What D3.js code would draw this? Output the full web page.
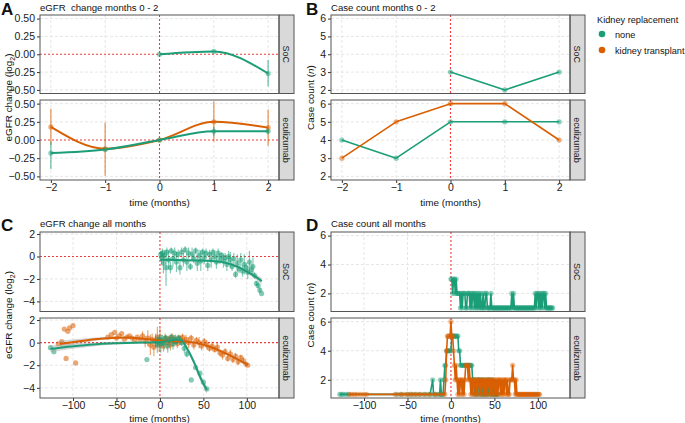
<!DOCTYPE html>
<html>
<head>
<meta charset="utf-8">
<script src="https://cdn.jsdelivr.net/npm/d3@7"></script>
<style>
body { margin: 0; background: #fff; }
text { font-family: "Liberation Sans", Arial, sans-serif; }
</style>
</head>
<body>
<script>
var green = "#1b9e77", orange = "#d95f02";
var groupNames = ["none", "kidney transplant"];
var armNames = ["SoC", "eculizumab"];

// A: eGFR change months 0-2
var shortMonths = [-2, -1, 0, 1, 2];
var aSocNone    = [null, null, 0.00, 0.04, -0.27];
var aSocNoneLo  = [null, null, null, null, -0.45];
var aSocNoneHi  = [null, null, null, null, -0.08];
var aEcuNone    = [-0.18, -0.13, 0.00, 0.12, 0.12];
var aEcuNoneLo  = [-0.40, null, null, 0.06, 0.08];
var aEcuNoneHi  = [-0.02, null, null, 0.18, 0.16];
var aEcuKtx     = [0.18, -0.12, 0.00, 0.25, 0.17];
var aEcuKtxLo   = [-0.07, -0.49, null, -0.02, -0.08];
var aEcuKtxHi   = [0.43, 0.24, null, 0.53, 0.42];

// B: case count months 0-2
var bSocNone = [null, null, 3, 2, 3];
var bEcuNone = [4, 3, 5, 5, 5];
var bEcuKtx  = [3, 5, 6, 6, 4];

// C: eGFR change all months (mean, half error bar)
var cSocMonth = [1,2,3,4,5,7,8,10,12,13,15,17,19,21,23,25,27,29,31,33,35,37,39,41,43,45,47,49,51,53,55,57,59,61,63,65,67,69,71,73,75,77,79,81,83,85,87,89,91,93,95,97,99,101,103,105,107,109,111,113,115,117];
var cSocMean  = [0.2,-0.1,0.3,-0.6,0.1,-1.0,0.4,-0.3,-1.0,0.5, -0.2,0.3,-0.5,0.2,-1.0,0.4,-0.3,0.6,-0.5,0.3, -0.9,0.2,-0.2,0.5,-0.6,0.1,-0.4,0.4,-0.1,0.3, -0.8,0.2,-0.3,0.4,0.0,-0.5,0.3,-0.2,0.1,-0.4, -0.1,-0.7,0.0,-0.3,-0.9,-0.2,-1.6,-0.6,-1.1,-0.3, -1.3,-0.7,-1.0,-1.4,-0.5,-1.2,-0.9,-1.7,-2.4,-2.6, -3.0,-3.3];
var cSocErr   = [0.3,0.6,0.4,0.9,0.5,1.6,0.4,0.8,0.5,0.3, 0.7,0.5,0.9,0.4,0.6,0.4,0.6,0.3,0.8,0.5, 0.3,0.6,0.4,0.3,0.7,0.5,0.9,0.3,0.6,0.4, 0.5,0.4,0.7,0.3,0.5,0.6,0.4,0.5,0.3,0.6, 0.4,0.6,0.5,0.7,0.4,0.5,0.3,0.8,0.4,0.6, 0.5,0.9,0.4,0.6,1.0,0.5,0.8,0.3,0.2,0.2, 0.2,0];

var cEcuNoneMonth = [-126,-122,-15,-5,-3,-1,1,3,5,7, 9,11,13,15,17,19,21,23,25,28, 31,36,41,46,50,54];
var cEcuNoneMean  = [-0.45,-0.8,-1.5,0.1,-0.2,0.3,-0.1,0.2,0.0,0.4, -0.3,0.2,0.5,-0.1,0.3,0.1,0.4,0.2,0.0,-0.5, -1.0,-3.3,-2.2,-2.7,-3.5,-4.1];
var cEcuNoneErr   = [0,0,0,0.5,0.7,0.4,0.8,0.5,0.6,0.3, 0.6,0.4,0.3,0.5,0.4,0.3,0.3,0.4,0.3,0.4, 0.3,0,0,0,0,0];

var cEcuKtxMonth = [-117,-113,-110,-108,-106,-104,-100,-97, -60,-56,-52,-50,-47,-44,-41,-38,-35,-32,-29,-26,-23, -20,-17,-14,-11,-9,-7,-5,-3,-1,0, 2,4,6,8,10,12,14,16,18,20, 22,24,26,28,30,33,36,39,42,45, 48,51,54,57,60,63,66,69,72,75, 78,81,84,87,90,93,96,99,101];
var cEcuKtxMean  = [-0.1,0.1,1.2,-1.4,1.0,1.3,1.5,-1.8, 0.5,0.7,0.9,0.4,0.6,0.8,0.3,0.5,0.6,0.4,0.2,0.5,0.3, 0.6,0.1,0.4,-0.2,0.3,-0.4,0.2,0.5,-0.1,0.3, 0.1,-0.3,0.4,0.0,0.3,-0.2,0.5,0.1,0.3,-0.1, 0.4,0.2,0.5,0.1,0.3,0.0,0.4,-0.2,0.2,0.0, -0.3,0.1,-0.2,-0.5,-0.3,-0.6,-0.4,-0.9,-1.1,-0.8, -1.4,-1.0,-1.5,-1.2,-1.7,-1.3,-1.6,-1.9,-2.0];
var cEcuKtxErr   = [0,0,0,0,0,0,0,0, 0,0,0,0,0,0,0,0,0,0,0,0,0, 0.4,0.5,0.7,0.9,0.5,0.8,0.6,0.9,0.7,1.0, 0.6,0.5,0.4,0.6,0.3,0.5,0.3,0.5,0.4,0.4, 0.3,0.4,0.3,0.3,0.4,0.5,0.3,0.4,0.3,0.5, 0.4,0.3,0.4,0.3,0.4,0.3,0.4,0.3,0.4,0.3, 0.3,0.4,0.3,0.3,0.3,0.2,0.3,0.2,0];

// C: smooth fits (fit, half ribbon)
var cSocFitMonth = [0,20,40,60,70,80,90,100,110,117];
var cSocFit      = [-0.30,-0.32,-0.35,-0.40,-0.48,-0.65,-0.95,-1.35,-1.80,-2.20];
var cSocFitSe    = [0.12,0.08,0.07,0.07,0.08,0.10,0.12,0.15,0.22,0.30];
var cEcuNoneFitMonth = [-126,-110,-90,-70,-50,-30,-10,0,10,20,25,31,39,46,54];
var cEcuNoneFit      = [-0.55,-0.40,-0.25,-0.12,-0.05,0.0,0.02,0.05,0.15,0.28,0.20,-0.50,-1.70,-3.00,-4.20];
var cEcuNoneFitSe    = [0.30,0.25,0.20,0.15,0.12,0.10,0.08,0.08,0.10,0.12,0.12,0.20,0.25,0.30,0.35];
var cEcuKtxFitMonth = [-115,-95,-75,-55,-40,-20,0,20,40,55,70,85,101];
var cEcuKtxFit      = [-0.12,0.10,0.30,0.42,0.45,0.35,0.18,0.12,0.0,-0.30,-0.75,-1.30,-1.95];
var cEcuKtxFitSe    = [0.30,0.22,0.15,0.10,0.08,0.07,0.06,0.06,0.07,0.08,0.10,0.12,0.15];

// D: case count all months
var dSocStart = 0;
var dSocCount = [3,3,2,3,3,2,3,2,2,2, 2,1,2,1,2,2,2,1,1,2, 2,2,1,2,1,2,2,1,2,1, 2,1,2,1,2,1,1,2,1,1, 2,2,1,1,1,1,2,1,1,1, 1,1,1,1,1,1,1,1,1,1, 1,1,1,1,1,1,1,1,1,1, 2,1,2,1,1,1,1,1,1,1, 1,1,1,1,1,1,1,1,1,1, 1,1,1,1,1,1,1,2,1,2, 2,1,2,1,2,1,2,2,1,2, 1,1,1,1,1,1,1,1];
var dEcuNoneEarlyMonth = [-128,-126,-124,-121,-118,-62,-57,-50,-46,-41,-36,-31,-27,-24,-21,-20,-18,-15,-13,-12,-11,-10,-9];
var dEcuNoneEarlyCount = [1,1,1,1,1,1,1,1,1,1,1,1,1,1,2,1,1,1,1,2,1,1,1];
var dEcuNoneStart = -8;
var dEcuNoneCount = [2,3,3,4,4,4,4,4,4,5, 5,5,5,5,5,5,5,4,4,3, 3,3,3,3,3,3,3,3,3,3, 3,3,3,2,2,1,2,1,2,1, 2,2,1,2,1,2,1,1,2,1, 2,1,2,2,1,1,2,1,1,1, 1,1,1];
var dEcuKtxEarlyMonth = [-117,-114,-111,-108,-104,-100,-97,-64,-58,-54,-50,-46,-43,-39,-35,-30,-24,-18,-12];
var dEcuKtxEarlyCount = [1,1,1,1,1,1,1,1,1,1,1,1,1,1,1,1,1,1,1];
var dEcuKtxStart = -7;
var dEcuKtxCount = [1,2,4,5,5,5,5,6,5,5, 4,3,2,3,2,1,2,1,2,2, 1,2,1,2,3,3,3,2,3,2, 1,2,1,2,2,1,2,1,2,2, 1,2,1,2,2,1,2,1,2,1, 2,2,1,2,1,2,2,1,2,1, 2,1,2,2,1,2,1,2,1,2, 2,1,2,1,1,2,2,2,3,2, 2,1,2,1,1,1,1,1,1,1, 1,1,1,1,1,1,1,1,1,1, 1,1,1,1,1,1,1,1,1,1];

var svg = d3.select("body").append("svg")
    .attr("width", 685)
    .attr("height", 423);

var cols = [{x0: 40, x1: 279}, {x0: 331, x1: 570}];
var rowsTop = [{y0: 15, y1: 93.5}, {y0: 100, y1: 180}];
var rowsBot = [{y0: 232, y1: 311.5}, {y0: 318, y1: 398}];
var stripW = 15;
var gridCol = "#e6e6e6", borderCol = "#555", redCol = "#f03b3b";
var tickFont = 10.5, textFont = 9.6;

function zip(months, vals, lo, hi) {
    return months.map(function(m, i) {
        return {x: m, y: vals[i], lo: lo ? lo[i] : null, hi: hi ? hi[i] : null};
    }).filter(function(d) { return d.y != null; });
}
function zipErr(months, vals, err) {
    return months.map(function(m, i) {
        return {x: m, y: vals[i], lo: err[i] ? vals[i] - err[i] : null, hi: err[i] ? vals[i] + err[i] : null};
    });
}
function counts(start, arr) {
    return arr.map(function(v, i) { return {x: start + i, y: v}; });
}
function pairs(months, vals) {
    return months.map(function(m, i) { return {x: m, y: vals[i]}; });
}

// draws one facet: grid, red reference lines, strip, axes; returns a group for the data
function facet(col, row, xs, ys, xticks, yticks, yfmt, strip, showX, hline) {
    var g = svg.append("g");
    g.selectAll(".gx").data(xticks.filter(d => d !== 0)).join("line")
        .attr("x1", d => xs(d)).attr("x2", d => xs(d))
        .attr("y1", row.y0).attr("y2", row.y1)
        .attr("stroke", gridCol).attr("stroke-dasharray", "3,2");
    g.selectAll(".gy").data(hline ? yticks.filter(d => d !== 0) : yticks).join("line")
        .attr("y1", d => ys(d)).attr("y2", d => ys(d))
        .attr("x1", col.x0).attr("x2", col.x1)
        .attr("stroke", gridCol).attr("stroke-dasharray", "3,2");
    if (hline) {
        g.append("line").attr("x1", col.x0).attr("x2", col.x1)
            .attr("y1", ys(0)).attr("y2", ys(0))
            .attr("stroke", redCol).attr("stroke-width", 1.1).attr("stroke-dasharray", "2,2");
    }
    g.append("line").attr("x1", xs(0)).attr("x2", xs(0))
        .attr("y1", row.y0).attr("y2", row.y1)
        .attr("stroke", redCol).attr("stroke-width", 1.1).attr("stroke-dasharray", "2,2");
    // strip
    g.append("rect").attr("x", col.x1).attr("y", row.y0)
        .attr("width", stripW).attr("height", row.y1 - row.y0)
        .attr("fill", "#d9d9d9").attr("stroke", borderCol).attr("stroke-width", 1);
    g.append("text")
        .attr("transform", "translate(" + (col.x1 + stripW / 2) + "," + ((row.y0 + row.y1) / 2) + ") rotate(90)")
        .attr("text-anchor", "middle").attr("dy", "0.35em")
        .attr("font-size", 9).attr("fill", "#1a1a1a").text(strip);
    // y axis
    var ya = g.append("g").attr("transform", "translate(" + col.x0 + ",0)")
        .call(d3.axisLeft(ys).tickValues(yticks).tickFormat(yfmt).tickSize(3).tickPadding(2));
    styleAxis(ya);
    if (showX) {
        var xa = g.append("g").attr("transform", "translate(0," + row.y1 + ")")
            .call(d3.axisBottom(xs).tickValues(xticks).tickFormat(d3.format("d")).tickSize(3).tickPadding(1));
        styleAxis(xa);
    }
    return svg.append("g");
}
function styleAxis(a) {
    a.select(".domain").remove();
    a.selectAll(".tick line").attr("stroke", "#333");
    a.selectAll(".tick text").attr("font-size", tickFont).attr("fill", "#1a1a1a")
        .attr("font-family", "'Liberation Sans', Arial, sans-serif");
}
function border(col, row) {
    svg.append("rect").attr("x", col.x0).attr("y", row.y0)
        .attr("width", col.x1 - col.x0).attr("height", row.y1 - row.y0)
        .attr("fill", "none").attr("stroke", borderCol).attr("stroke-width", 1);
}

function errbars(g, data, xs, ys, color, w) {
    g.selectAll(null).data(data.filter(d => d.lo != null)).join("line")
        .attr("x1", d => xs(d.x)).attr("x2", d => xs(d.x))
        .attr("y1", d => ys(d.lo)).attr("y2", d => ys(d.hi))
        .attr("stroke", color).attr("stroke-opacity", 0.55).attr("stroke-width", w);
}
function dots(g, data, xs, ys, color, r, op) {
    g.selectAll(null).data(data).join("circle")
        .attr("cx", d => xs(d.x)).attr("cy", d => ys(d.y)).attr("r", r)
        .attr("fill", color).attr("fill-opacity", op);
}
function path(g, data, xs, ys, color, w, curve) {
    g.append("path").datum(data)
        .attr("d", d3.line().x(d => xs(d.x)).y(d => ys(d.y)).curve(curve))
        .attr("fill", "none").attr("stroke", color).attr("stroke-width", w)
        .attr("stroke-linejoin", "round");
}
function ribbon(g, data, xs, ys) {
    g.append("path").datum(data)
        .attr("d", d3.area().x(d => xs(d.x)).y0(d => ys(d.y - d.se)).y1(d => ys(d.y + d.se)).curve(d3.curveMonotoneX))
        .attr("fill", "#9a9a9a").attr("fill-opacity", 0.4);
}

// ---------- A ----------
var xA = d3.scaleLinear().domain([-2.2, 2.2]).range([cols[0].x0, cols[0].x1]);
var yATicks = [-0.5, -0.25, 0, 0.25, 0.5];
var fmtA = d3.format(".2f");
var yA0 = d3.scaleLinear().domain([-0.55, 0.55]).range([rowsTop[0].y1, rowsTop[0].y0]);
var yA1 = d3.scaleLinear().domain([-0.55, 0.55]).range([rowsTop[1].y1, rowsTop[1].y0]);
var gA0 = facet(cols[0], rowsTop[0], xA, yA0, shortMonths, yATicks, fmtA, armNames[0], false, true);
var socA = zip(shortMonths, aSocNone, aSocNoneLo, aSocNoneHi);
errbars(gA0, socA, xA, yA0, green, 1.5);
dots(gA0, socA, xA, yA0, green, 2.6, 0.5);
path(gA0, socA, xA, yA0, green, 2, d3.curveMonotoneX);
border(cols[0], rowsTop[0]);

var gA1 = facet(cols[0], rowsTop[1], xA, yA1, shortMonths, yATicks, fmtA, armNames[1], true, true);
var ecuNoneA = zip(shortMonths, aEcuNone, aEcuNoneLo, aEcuNoneHi);
var ecuKtxA = zip(shortMonths, aEcuKtx, aEcuKtxLo, aEcuKtxHi);
errbars(gA1, ecuKtxA, xA, yA1, orange, 1.5);
errbars(gA1, ecuNoneA, xA, yA1, green, 1.5);
dots(gA1, ecuKtxA, xA, yA1, orange, 2.6, 0.5);
dots(gA1, ecuNoneA, xA, yA1, green, 2.6, 0.5);
path(gA1, ecuKtxA, xA, yA1, orange, 2, d3.curveMonotoneX);
path(gA1, ecuNoneA, xA, yA1, green, 2, d3.curveMonotoneX);
border(cols[0], rowsTop[1]);

// ---------- B ----------
var xB = d3.scaleLinear().domain([-2.2, 2.2]).range([cols[1].x0, cols[1].x1]);
var yBTicks = [2, 3, 4, 5, 6];
var yB0 = d3.scaleLinear().domain([1.8, 6.2]).range([rowsTop[0].y1, rowsTop[0].y0]);
var yB1 = d3.scaleLinear().domain([1.8, 6.2]).range([rowsTop[1].y1, rowsTop[1].y0]);
var gB0 = facet(cols[1], rowsTop[0], xB, yB0, shortMonths, yBTicks, d3.format("d"), armNames[0], false, false);
var socB = zip(shortMonths, bSocNone);
path(gB0, socB, xB, yB0, green, 1.6, d3.curveLinear);
dots(gB0, socB, xB, yB0, green, 2.6, 0.5);
border(cols[1], rowsTop[0]);
var gB1 = facet(cols[1], rowsTop[1], xB, yB1, shortMonths, yBTicks, d3.format("d"), armNames[1], true, false);
var noneB = zip(shortMonths, bEcuNone), ktxB = zip(shortMonths, bEcuKtx);
path(gB1, noneB, xB, yB1, green, 1.6, d3.curveLinear);
dots(gB1, noneB, xB, yB1, green, 2.6, 0.5);
path(gB1, ktxB, xB, yB1, orange, 1.6, d3.curveLinear);
dots(gB1, ktxB, xB, yB1, orange, 2.6, 0.5);
border(cols[1], rowsTop[1]);

// ---------- C ----------
var longTicks = [-100, -50, 0, 50, 100];
var xC = d3.scaleLinear().domain([-138, 137]).range([cols[0].x0, cols[0].x1]);
var yCTicks = [-4, -2, 0, 2];
var yC0 = d3.scaleLinear().domain([-4.9, 2.18]).range([rowsBot[0].y1, rowsBot[0].y0]);
var yC1 = d3.scaleLinear().domain([-4.9, 2.18]).range([rowsBot[1].y1, rowsBot[1].y0]);
var gC0 = facet(cols[0], rowsBot[0], xC, yC0, longTicks, yCTicks, d3.format("d"), armNames[0], false, true);
var socC = zipErr(cSocMonth, cSocMean, cSocErr);
errbars(gC0, socC, xC, yC0, green, 1.2);
dots(gC0, socC, xC, yC0, green, 2.6, 0.55);
var socFit = cSocFitMonth.map((m, i) => ({x: m, y: cSocFit[i], se: cSocFitSe[i]}));
ribbon(gC0, socFit, xC, yC0);
path(gC0, socFit, xC, yC0, green, 2, d3.curveMonotoneX);
border(cols[0], rowsBot[0]);

var gC1 = facet(cols[0], rowsBot[1], xC, yC1, longTicks, yCTicks, d3.format("d"), armNames[1], true, true);
var noneC = zipErr(cEcuNoneMonth, cEcuNoneMean, cEcuNoneErr);
var ktxC = zipErr(cEcuKtxMonth, cEcuKtxMean, cEcuKtxErr);
errbars(gC1, ktxC, xC, yC1, orange, 1.2);
dots(gC1, ktxC, xC, yC1, orange, 2.6, 0.55);
errbars(gC1, noneC, xC, yC1, green, 1.2);
dots(gC1, noneC, xC, yC1, green, 2.6, 0.55);
var noneFit = cEcuNoneFitMonth.map((m, i) => ({x: m, y: cEcuNoneFit[i], se: cEcuNoneFitSe[i]}));
var ktxFit = cEcuKtxFitMonth.map((m, i) => ({x: m, y: cEcuKtxFit[i], se: cEcuKtxFitSe[i]}));
ribbon(gC1, ktxFit, xC, yC1);
ribbon(gC1, noneFit, xC, yC1);
path(gC1, ktxFit, xC, yC1, orange, 2, d3.curveMonotoneX);
path(gC1, noneFit, xC, yC1, green, 2, d3.curveMonotoneX);
border(cols[0], rowsBot[1]);

// ---------- D ----------
var xD = d3.scaleLinear().domain([-138, 137]).range([cols[1].x0, cols[1].x1]);
var yDTicks = [2, 4, 6];
var yD0 = d3.scaleLinear().domain([0.75, 6.25]).range([rowsBot[0].y1, rowsBot[0].y0]);
var yD1 = d3.scaleLinear().domain([0.75, 6.25]).range([rowsBot[1].y1, rowsBot[1].y0]);
var gD0 = facet(cols[1], rowsBot[0], xD, yD0, longTicks, yDTicks, d3.format("d"), armNames[0], false, false);
var socD = counts(dSocStart, dSocCount);
path(gD0, socD, xD, yD0, green, 1.6, d3.curveLinear);
dots(gD0, socD, xD, yD0, green, 2.6, 0.45);
border(cols[1], rowsBot[0]);
var gD1 = facet(cols[1], rowsBot[1], xD, yD1, longTicks, yDTicks, d3.format("d"), armNames[1], true, false);
var noneD = pairs(dEcuNoneEarlyMonth, dEcuNoneEarlyCount).concat(counts(dEcuNoneStart, dEcuNoneCount));
var ktxD = pairs(dEcuKtxEarlyMonth, dEcuKtxEarlyCount).concat(counts(dEcuKtxStart, dEcuKtxCount));
path(gD1, noneD, xD, yD1, green, 1.6, d3.curveLinear);
dots(gD1, noneD, xD, yD1, green, 2.6, 0.45);
path(gD1, ktxD, xD, yD1, orange, 1.6, d3.curveLinear);
dots(gD1, ktxD, xD, yD1, orange, 2.6, 0.45);
border(cols[1], rowsBot[1]);

// ---------- titles, labels ----------
function label(x, y, s, size, opts) {
    var t = svg.append("text").attr("x", x).attr("y", y)
        .attr("font-size", size).attr("fill", "#111")
        .style("white-space", "pre").text(s);
    if (opts && opts.bold) t.attr("font-weight", "bold");
    if (opts && opts.anchor) t.attr("text-anchor", opts.anchor);
    return t;
}
label(1, 15, "A", 17, {bold: true});
label(306, 15, "B", 17, {bold: true});
label(1, 231, "C", 17, {bold: true});
label(306, 231, "D", 17, {bold: true});
label(40, 11, "eGFR  change months 0 - 2", textFont);
label(331, 11, "Case count months 0 - 2", textFont);
label(40, 227, "eGFR change all months", textFont);
label(331, 227, "Case count all months", textFont);
label((cols[0].x0 + cols[0].x1) / 2, 206, "time (months)", textFont + 0.3, {anchor: "middle"});
label((cols[1].x0 + cols[1].x1) / 2, 206, "time (months)", textFont + 0.3, {anchor: "middle"});
label((cols[0].x0 + cols[0].x1) / 2, 421.5, "time (months)", textFont + 0.3, {anchor: "middle"});
label((cols[1].x0 + cols[1].x1) / 2, 421.5, "time (months)", textFont + 0.3, {anchor: "middle"});

function egfrTitle(cy) {
    var t = svg.append("text").attr("transform", "translate(12," + cy + ") rotate(-90)")
        .attr("text-anchor", "middle").attr("font-size", textFont + 0.3).attr("fill", "#111");
    t.append("tspan").text("eGFR change (log");
    t.append("tspan").attr("font-size", 7).attr("dy", 2.5).text("2");
    t.append("tspan").attr("dy", -2.5).text(")");
}
function countTitle(cy) {
    var t = svg.append("text").attr("transform", "translate(314," + cy + ") rotate(-90)")
        .attr("text-anchor", "middle").attr("font-size", textFont + 0.3).attr("fill", "#111");
    t.append("tspan").text("Case count (");
    t.append("tspan").attr("font-style", "italic").text("n");
    t.append("tspan").text(")");
}
egfrTitle((rowsTop[0].y0 + rowsTop[1].y1) / 2);
egfrTitle((rowsBot[0].y0 + rowsBot[1].y1) / 2);
countTitle((rowsTop[0].y0 + rowsTop[1].y1) / 2);
countTitle((rowsBot[0].y0 + rowsBot[1].y1) / 2);

// legend
var legend = svg.append("g").attr("transform", "translate(597,0)");
legend.append("text").attr("x", 0).attr("y", 23).attr("font-size", 9.2).attr("fill", "#111").text("Kidney replacement");
legend.selectAll("circle").data(groupNames).join("circle")
    .attr("cx", 5).attr("cy", (d, i) => 34 + i * 16).attr("r", 3.3)
    .attr("fill", (d, i) => i ? orange : green);
legend.selectAll(".lab").data(groupNames).join("text")
    .attr("x", 18).attr("y", (d, i) => 37.5 + i * 16)
    .attr("font-size", 9.2).attr("fill", "#111").text(d => d);
</script>
</body>
</html>
